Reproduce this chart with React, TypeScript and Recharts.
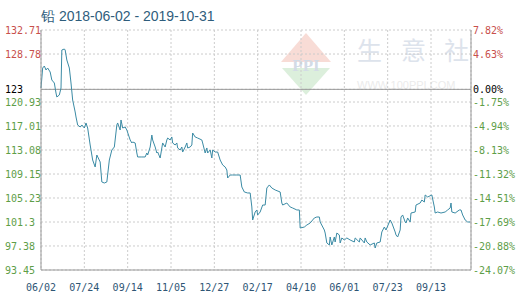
import React from 'react';
import { LineChart, Line, XAxis, YAxis, CartesianGrid, ReferenceLine } from 'recharts';

// 铅 price, days counted from 2018-06-02
const days = [
  0, 2, 4, 6, 8, 11, 13, 16, 18, 19, 22, 24, 25, 28, 29, 31, 34, 36, 38, 41,
  42, 44, 47, 49, 52, 54, 56, 59, 60, 62, 65, 67, 71, 73, 76, 79, 82, 85, 88, 91,
  92, 95, 96, 98, 101, 103, 107, 109, 110, 113, 115, 116, 121, 125, 127, 128, 131, 133, 134, 137,
  139, 140, 143, 145, 146, 149, 151, 152, 155, 157, 158, 161, 163, 164, 167, 169, 170, 173, 175, 176,
  179, 181, 182, 185, 188, 193, 194, 197, 199, 200, 203, 205, 206, 209, 212, 215, 218, 221, 223, 224,
  227, 230, 235, 239, 241, 244, 248, 251, 253, 254, 257, 259, 260, 263, 266, 269, 271, 274, 277, 281,
  287, 289, 290, 295, 299, 302, 307, 310, 311, 316, 319, 323, 328, 331, 334, 335, 340, 341, 343, 346,
  347, 349, 352, 353, 355, 358, 359, 361, 364, 367, 371, 376, 377, 382, 383, 388, 389, 391, 395, 400,
  401, 403, 407, 409, 412, 414, 419, 421, 425, 426, 428, 431, 432, 434, 437, 438, 440, 443, 444, 449,
  450, 455, 457, 460, 461, 464, 469, 472, 473, 476, 480, 485, 488, 491, 492, 493, 497, 502, 504, 506,
  509, 512, 515,
];

const prices = [
  123.22, 126.49, 126.82, 126.17, 126.49, 125.84, 124.53, 124.04, 122.4, 121.75, 122.08, 123.22, 129.44, 129.6, 129.44, 127.8, 126.49, 124.04, 121.26, 119.3,
  118.48, 117.17, 116.84, 117.17, 116.68, 117.5, 116.68, 113.9, 113.08, 111.44, 110.3, 112.26, 111.12, 107.85, 107.68, 107.85, 111.44, 113.08, 113.57, 117.17,
  117.5, 116.35, 117.99, 116.68, 116.84, 116.35, 114.72, 114.23, 114.39, 114.23, 112.59, 111.94, 111.94, 111.94, 112.59, 112.26, 113.57, 115.53, 114.72, 113.57,
  112.59, 112.75, 111.77, 113.41, 114.23, 113.57, 114.72, 115.04, 114.72, 115.21, 114.23, 113.9, 114.23, 113.41, 113.08, 113.57, 112.75, 113.57, 114.23, 113.41,
  113.57, 113.9, 115.86, 115.21, 115.04, 114.72, 114.23, 112.59, 113.41, 112.59, 113.08, 111.77, 113.08, 112.75, 112.75, 111.44, 110.63, 110.3, 109.81, 108.5,
  108.99, 108.99, 108.99, 108.99, 107.03, 106.21, 106.05, 106.05, 103.76, 101.63, 102.94, 103.27, 102.45, 102.94, 104.08, 104.08, 106.86, 107.36, 106.86, 106.54,
  106.21, 104.41, 104.08, 104.41, 103.76, 103.59, 103.27, 103.27, 100.32, 100.48, 100.81, 101.14, 101.96, 102.12, 102.12, 101.3, 99.99, 99.5, 97.87, 97.54,
  98.85, 97.54, 98.85, 98.03, 99.5, 99.18, 97.87, 98.69, 98.36, 98.69, 98.36, 98.03, 98.69, 98.03, 98.69, 97.87, 98.69, 98.03, 97.54, 97.87,
  97.05, 97.87, 98.03, 99.67, 100.48, 99.99, 101.63, 101.14, 99.67, 99.18, 98.85, 99.99, 102.12, 102.45, 101.3, 101.14, 101.96, 101.3, 102.77, 102.94,
  104.08, 104.41, 104.9, 104.57, 105.72, 105.39, 105.72, 103.76, 102.77, 102.94, 102.77, 102.94, 103.27, 103.59, 104.41, 102.94, 102.77, 103.27, 103.27, 102.45,
  101.63, 101.3, 101.3,
];

const xTicks = [0, 52, 104, 156, 208, 260, 312, 364, 416, 468];
const xLabels = ['06/02', '07/24', '09/14', '11/05', '12/27', '02/17', '04/10', '06/01', '07/23', '09/13'];

const yTicks = [132.71, 128.78, 123, 120.93, 117.01, 113.08, 109.15, 105.23, 101.3, 97.38, 93.45];
const yLabels = ['132.71', '128.78', '123', '120.93', '117.01', '113.08', '109.15', '105.23', '101.3', '97.38', '93.45'];
const pctLabels = ['7.82%', '4.63%', '0.00%', '-1.75%', '-4.94%', '-8.13%', '-11.32%', '-14.51%', '-17.69%', '-20.88%', '-24.07%'];

const data = days.map((d, i) => ({ day: d, price: prices[i] }));

const RED = '#c8504c';
const GREEN = '#5e9e48';
const tickFont = { fontFamily: 'DejaVu Sans Mono', fontSize: 10 };

const colorFor = (v: number) => (v > 123 ? RED : v === 123 ? '#000' : GREEN);

const LeftTick = (props: any) => {
  const { y, payload } = props;
  const i = yTicks.indexOf(payload.value);
  return (
    <text x={5} y={y} dy={4} textAnchor="start" fill={colorFor(payload.value)} {...tickFont}>
      {yLabels[i]}
    </text>
  );
};

const RightTick = (props: any) => {
  const { y, payload } = props;
  const i = yTicks.indexOf(payload.value);
  return (
    <text x={473} y={y} dy={4} textAnchor="start" fill={colorFor(payload.value)} {...tickFont}>
      {pctLabels[i]}
    </text>
  );
};

const BottomTick = (props: any) => {
  const { x, y, payload } = props;
  const i = xTicks.indexOf(payload.value);
  return (
    <text x={x} y={y} dy={13} textAnchor="middle" fill="#2e5575" {...tickFont}>
      {xLabels[i]}
    </text>
  );
};

const markFont = { fontFamily: 'Noto Sans CJK SC', fontSize: 25, fill: '#dde3ec' };

const Background = () => (
  <svg width={520} height={300} style={{ position: 'absolute', left: 0, top: 0 }}>
    <text x={41} y={21} fontFamily="Liberation Sans" fontSize={14} fill="#2f5d7c">
      铅 2018-06-02 - 2019-10-31
    </text>
    <polygon points="306,33 331,62 281,62" fill="#f8dcd6" />
    <polygon points="282,68 330,68 306,95" fill="#dcefdc" />
    <text x={306} y={71} textAnchor="middle" fontFamily="Liberation Serif" fontWeight="bold" fontSize={17} fill="#d3dbe6">
      PPI
    </text>
    <text x={357} y={60} {...markFont}>生</text>
    <text x={401} y={60} {...markFont}>意</text>
    <text x={444} y={60} {...markFont}>社</text>
    <text x={357} y={89} fontFamily="Liberation Sans" fontSize={11} fill="#ebebeb">
      WWW.100PPI.COM
    </text>
  </svg>
);

export default function App() {
  return (
    <div style={{ position: 'absolute', left: 0, top: 0, width: 520, height: 300, background: '#fff' }}>
      <Background />
      <div style={{ position: 'absolute', left: 0, top: 0 }}>
        <LineChart width={520} height={300} data={data} margin={{ top: 30, right: 0, bottom: 0, left: 0 }}>
          <CartesianGrid yAxisId="left" stroke="#cccccc" strokeDasharray="2 2" />
          <XAxis
            dataKey="day"
            type="number"
            domain={[0, 516]}
            ticks={xTicks}
            interval={0}
            height={30}
            tickLine={false}
            axisLine={{ stroke: '#999' }}
            tick={<BottomTick />}
          />
          <YAxis
            yAxisId="left"
            type="number"
            domain={[93.45, 132.71]}
            ticks={yTicks}
            interval={0}
            width={41}
            tickLine={false}
            axisLine={{ stroke: '#999' }}
            tick={<LeftTick />}
          />
          <YAxis
            yAxisId="right"
            orientation="right"
            type="number"
            domain={[93.45, 132.71]}
            ticks={yTicks}
            interval={0}
            width={49}
            tickLine={false}
            axisLine={{ stroke: '#999' }}
            tick={<RightTick />}
          />
          <ReferenceLine yAxisId="left" y={123} stroke="#999" />
          <Line
            yAxisId="right"
            type="linear"
            dataKey="price"
            stroke="none"
            dot={false}
            activeDot={false}
            isAnimationActive={false}
          />
          <Line
            yAxisId="left"
            type="linear"
            dataKey="price"
            stroke="#3b8ba5"
            strokeWidth={1}
            dot={false}
            isAnimationActive={false}
          />
        </LineChart>
      </div>
    </div>
  );
}
